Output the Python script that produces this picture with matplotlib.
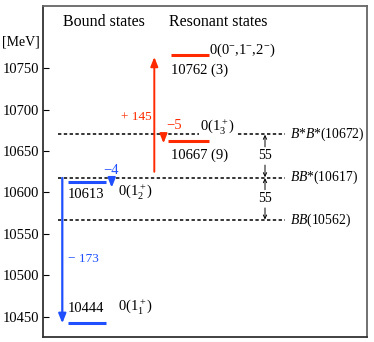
#!/usr/bin/env python3
"""
Level diagram: bound and resonant states relative to the B(*)B(*) thresholds
"""

import matplotlib
matplotlib.use("Agg")
import matplotlib.pyplot as plt

plt.rcParams['font.family'] = ['Liberation Serif', 'DejaVu Serif']
plt.rcParams['mathtext.fontset'] = 'custom'
plt.rcParams['mathtext.rm'] = 'Liberation Serif'
plt.rcParams['mathtext.it'] = 'Liberation Serif:italic'

# Data (MeV)
yticks = [10450, 10500, 10550, 10600, 10650, 10700, 10750]

thresholds = [10670.3, 10617.9, 10566.8]
threshold_labels = [r"$B$*$B$*(10672)", r"$BB$*(10617)", r"$BB$(10562)"]
gap_labels = ["55", "55"]

bound_levels = [10612.7, 10442.0]
bound_labels = ["10613", "10444"]
bound_states = [r"0(1$_2^+$)", r"0(1$_1^+$)"]

resonant_levels = [10766.1, 10662.6]
resonant_labels = ["10762 (3)", "10667 (9)"]
resonant_states = [r"0(0$^{-}$,1$^{-}$,2$^{-}$)", r"0(1$_3^+$)"]

# shifts: (start, end, label)
blue_shifts = [(10617.5, 10442.0, "\u2212 173"), (10617.9, 10605.8, "\u22124")]
red_shifts = [(10625.0, 10763.6, "+ 145"), (10670.3, 10659.4, "\u22125")]

RED = '#ff2a00'
BLUE = '#1f4fff'

fig = plt.figure(figsize=(3.74, 3.42), dpi=100)
ax = fig.add_axes([43.3 / 374, 5 / 342, 324 / 374, 331.5 / 342])
ax.set_xlim(43.3, 367.3)
ax.set_ylim(10425.5, 10825.8)

for side in ['top', 'right']:
    ax.spines[side].set_color('#666666')
    ax.spines[side].set_linewidth(1.3)
for side in ['left', 'bottom']:
    ax.spines[side].set_color('#333333')
    ax.spines[side].set_linewidth(1.3)
ax.set_xticks([])
ax.set_yticks(yticks)
ax.tick_params(axis='y', direction='in', length=4, width=0.8, labelsize=10.5, pad=3)

# headers
ax.text(104, 10806.3, "Bound states", ha='center', va='center', fontsize=11.5)
ax.text(218, 10806.3, "Resonant states", ha='center', va='center', fontsize=11.5)
ax.text(21, 10782, "[MeV]", ha='center', va='center', fontsize=10, clip_on=False)

# thresholds
for y, lab in zip(thresholds, threshold_labels):
    ax.plot([58, 285], [y, y], color='black', lw=1.1, ls=(0, (2.2, 1.6)), zorder=1)
    ax.text(290, y, lab, ha='left', va='center', fontsize=9.8)

# 55 MeV gaps
gx = 265
for (hi, lo), lab in zip(zip(thresholds[:-1], thresholds[1:]), gap_labels):
    mid = hi - 0.5 * (hi - lo)
    ax.text(gx, mid, lab, ha='center', va='center', fontsize=10)
    arr = dict(arrowstyle='->,head_length=0.25,head_width=0.12', color='black',
               lw=0.7, shrinkA=0, shrinkB=0)
    ax.annotate("", xy=(gx, hi - 0.5), xytext=(gx, mid + 11), arrowprops=arr)
    ax.annotate("", xy=(gx, lo + 0.5), xytext=(gx, mid - 11), arrowprops=arr)

# bound states
label_dy = [-15.7, 18.5]
state_dy = [-11.7, 19.7]
for y, lab, st, dl, ds in zip(bound_levels, bound_labels, bound_states, label_dy, state_dy):
    ax.plot([68, 106], [y, y], color=BLUE, lw=2.2, solid_capstyle='butt', zorder=3)
    ax.text(68, y + dl, lab, ha='left', va='center', fontsize=10.5)
    ax.text(118, y + ds, st, ha='left', va='center', fontsize=10.5)

# resonant states
ax.plot([171, 208.5], [resonant_levels[0]] * 2, color=RED, lw=2.2,
        solid_capstyle='butt', zorder=3)
ax.text(171, resonant_levels[0] - 18.3, resonant_labels[0], ha='left', va='center',
        fontsize=10.5)
ax.text(209, resonant_levels[0] + 6, resonant_states[0], ha='left', va='center',
        fontsize=10.5)
ax.plot([168, 208.5], [resonant_levels[1]] * 2, color=RED, lw=2.2,
        solid_capstyle='butt', zorder=3)
ax.text(171, resonant_levels[1] - 17.3, resonant_labels[1], ha='left', va='center',
        fontsize=10.5)
ax.text(200, 10679.5, resonant_states[1], ha='left', va='center', fontsize=10.5,
        bbox=dict(facecolor='white', edgecolor='none', pad=0.5), zorder=4)

# shift arrows
head = '-|>,head_length=0.55,head_width=0.22'
shift_x = [62.3, 111.7]
for (y0, y1, lab), x in zip(blue_shifts, shift_x):
    ax.annotate("", xy=(x, y1), xytext=(x, y0),
                arrowprops=dict(arrowstyle=head, color=BLUE, lw=1.6,
                                shrinkA=0, shrinkB=0), zorder=4)
ax.text(68, 10519.7, blue_shifts[0][2], color=BLUE, ha='left', va='center', fontsize=9.5)
ax.text(103, 10626, blue_shifts[1][2], color=BLUE, ha='left', va='center', fontsize=10.5)

shift_x = [154.3, 163.5]
for (y0, y1, lab), x in zip(red_shifts, shift_x):
    ax.annotate("", xy=(x, y1), xytext=(x, y0),
                arrowprops=dict(arrowstyle=head, color=RED, lw=1.4,
                                shrinkA=0, shrinkB=0), zorder=4)
ax.text(152, 10691.5, red_shifts[0][2], color=RED, ha='right', va='center', fontsize=9.5)
ax.text(166, 10681, red_shifts[1][2], color=RED, ha='left', va='center', fontsize=10.5)

plt.savefig('out.png', dpi=100)
